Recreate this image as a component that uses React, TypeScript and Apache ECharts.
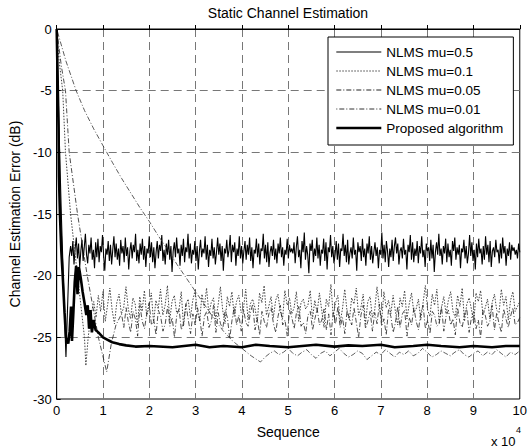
import React, { useEffect, useRef } from "react";
import * as echarts from "echarts";

const FONT = '"Liberation Sans", Arial, Helvetica, sans-serif';

const titleText = "Static Channel Estimation";
const xAxisName = "Sequence";
const yAxisName = "Channel Estimation Error (dB)";
const seriesNames = ["NLMS mu=0.5", "NLMS mu=0.1", "NLMS mu=0.05", "NLMS mu=0.01", "Proposed algorithm"];

// x in units of 10^4
// NLMS mu=0.5 : transient then noisy band
const mu05HeadX = [0, 0.05, 0.1, 0.15, 0.2, 0.24, 0.27];
const mu05HeadY = [0, -8, -15, -21, -26.6, -22, -18.5];
const mu05NoiseStart = 0.3;
const mu05Noise = [
  -17.6, -18.4, -17.2, -19.1, -17.8, -16.9, -18.6, -17.4, -19.3, -18.0, -17.1, -18.8, -17.7, -16.6, -18.3, -19.0, -17.5, -18.2, -16.9, -18.7,
  -17.9, -19.4, -17.3, -18.5, -17.0, -18.9, -17.6, -18.1, -16.7, -18.4, -19.6, -17.8, -18.3, -17.2, -18.8, -17.5, -19.1, -17.9, -16.8, -18.5,
  -17.4, -18.7, -17.8, -19.2, -17.1, -18.2, -17.6, -18.9, -16.9, -18.4, -17.7, -19.5, -18.0, -17.3, -18.6, -17.5, -18.1, -16.6, -18.8, -17.9,
  -19.0, -17.4, -18.3, -17.0, -18.7, -17.6, -19.3, -17.8, -18.2, -16.8, -18.5, -17.3, -18.9, -17.7, -19.4, -18.1, -17.2, -18.6, -17.5, -18.0,
  -16.7, -18.8, -17.9, -19.1, -17.4, -18.3, -17.1, -18.7, -17.6, -19.7, -18.0, -17.3, -18.5, -16.9, -18.2, -17.8, -19.2, -17.5, -18.4, -17.0,
  -18.9, -17.7, -18.1, -16.6, -18.6, -17.4, -19.0, -17.9, -18.3, -17.2, -18.8, -17.6, -19.5, -18.0, -17.1, -18.5, -17.8, -18.2, -16.8, -18.7,
  -17.5, -19.3, -17.9, -18.4, -17.0, -18.6, -17.7, -19.1, -18.1, -16.9, -18.3, -17.4, -18.8, -17.6, -19.6, -17.8, -18.2, -17.1, -18.5, -17.9,
  -16.7, -18.9, -17.5, -18.1, -17.3, -19.2, -17.8, -18.4, -16.8, -18.6, -17.6, -19.0, -18.0, -17.2, -18.7, -17.5, -18.3, -16.9, -18.8, -17.7,
  -19.4, -17.9, -18.2, -17.0, -18.5, -17.4, -19.1, -17.8, -18.0, -16.6, -18.6, -17.5, -18.9, -17.3, -19.3, -18.1, -17.6, -18.4, -17.1, -18.7,
  -17.8, -19.0, -17.4, -18.2, -16.9, -18.5, -17.7, -19.2, -17.9, -18.3, -17.0, -18.6, -17.5, -18.1, -17.8,
  -18.2, -17.3, -19.0, -17.7, -16.8, -18.5, -17.9, -19.4, -17.2, -18.1, -16.5, -18.7, -17.6, -18.3, -19.8, -17.4, -18.0, -17.1, -18.9, -17.8,
  -18.4, -16.9, -18.6, -17.5, -19.2, -17.9, -18.2, -17.0, -18.8, -17.3, -19.5, -17.7, -18.1, -16.7, -18.5, -17.6, -19.0, -18.3, -17.2, -18.7,
  -17.4, -19.3, -17.8, -18.0, -16.6, -18.4, -17.5, -18.9, -17.1, -19.1, -18.2, -17.7, -18.6, -16.9, -18.3, -17.9, -19.6, -17.3, -18.1, -17.6,
  -18.8, -17.0, -18.5, -17.8, -19.2, -17.4, -18.2, -16.8, -18.7, -17.6, -19.0, -18.1, -17.3, -18.4, -17.7, -19.4, -17.9, -18.3, -16.5, -18.6,
  -17.5, -18.9, -17.2, -18.0, -19.3, -17.8, -18.5, -17.1, -18.8, -17.6, -16.9, -18.2, -17.4, -19.1, -18.0, -17.7, -18.6, -17.0, -18.3, -17.9,
  -19.5, -17.5, -18.1, -16.7, -18.7, -17.3, -18.9, -17.8, -18.4, -17.2, -19.0, -17.6, -18.2, -16.8, -18.5, -17.9, -19.3, -17.4, -18.0, -17.7,
  -18.8, -17.1, -18.6, -17.5, -19.7, -18.1, -17.3, -18.3, -16.6, -18.4, -17.8, -19.1, -17.6, -18.2, -17.0, -18.9, -17.4, -18.5, -17.9, -19.2,
  -17.2, -18.0, -16.9, -18.7, -17.7, -18.3, -17.5, -19.4, -17.8, -18.1, -17.1, -18.6, -17.6, -19.0, -18.2, -16.7, -18.4, -17.3, -18.8, -17.9,
  -19.5, -17.4, -18.5, -17.0, -18.2, -17.8, -19.1, -17.6, -18.7, -16.8, -18.3, -17.5, -18.9, -17.2, -19.3, -18.0, -17.7, -18.5, -17.1, -18.1,
  -17.9, -19.0, -17.4, -18.6, -16.9, -18.2, -17.6, -19.2, -17.8, -18.4, -17.3, -18.7, -17.5, -18.0, -17.7, -18.3, -17.9, -18.6, -17.4, -18.1,
];

// NLMS mu=0.1
const mu01HeadX = [0, 0.05, 0.13, 0.19, 0.3, 0.45, 0.6, 0.63, 0.68, 0.74];
const mu01HeadY = [0, -2.5, -5, -10, -15, -20, -25, -27.3, -25, -23.2];
const mu01NoiseStart = 0.8;
const mu01Noise = [
  -22.1, -23.4, -21.6, -22.9, -21.3, -23.7, -22.4, -21.0, -22.8, -23.9, -22.2, -21.5, -23.1, -22.6, -20.9, -22.7, -23.5, -21.8, -22.3, -24.0,
  -21.7, -22.9, -21.2, -23.3, -22.5, -21.4, -23.8, -22.0, -22.7, -21.1, -23.2, -22.4, -20.8, -23.6, -22.1, -21.6, -23.0, -22.8, -21.3, -24.1,
  -22.3, -21.9, -23.4, -22.0, -21.2, -22.9, -23.7, -21.5, -22.6, -21.0, -23.1, -22.2, -21.8, -23.5, -22.4, -20.9, -22.8, -23.9, -21.7, -22.5,
  -21.3, -23.3, -22.1, -21.6, -23.0, -22.7, -21.1, -23.6, -22.3, -21.9, -22.6, -23.8, -21.4, -22.2, -20.8, -23.2, -22.5, -21.7, -23.4, -22.0,
  -21.5, -22.9, -23.5, -21.2, -22.4, -21.8, -23.1, -22.6, -21.3, -23.7, -22.2, -21.9, -22.7,
  -22.4, -21.2, -23.5, -22.0, -23.0, -21.4, -22.8, -24.2, -21.9, -22.5, -20.7, -23.3, -22.2, -21.6, -23.8, -22.7, -21.1, -22.9, -23.6, -21.8,
  -22.3, -21.0, -23.2, -22.6, -21.5, -23.9, -22.1, -21.7, -23.4, -22.8, -20.9, -22.4, -23.7, -21.3, -22.6, -22.0, -23.1, -21.6, -22.9, -24.0,
  -21.8, -22.5, -21.2, -23.5, -22.3, -21.4, -23.0, -22.7, -21.9, -23.6, -22.2, -20.8, -22.8, -23.3, -21.5, -22.4, -21.1, -23.8, -22.6, -21.7,
  -23.1, -22.0, -21.3, -22.9, -23.4, -21.6, -22.5, -21.0, -23.7, -22.3, -21.8, -22.7, -23.9, -21.4, -22.1, -21.2, -23.2, -22.6, -21.9, -23.5,
  -22.2, -21.5, -22.8, -23.0, -21.1, -22.4, -21.7, -23.6, -22.0, -21.3, -22.9, -22.5, -22.1,
];

// NLMS mu=0.05
const mu005HeadX = [0, 0.1, 0.19, 0.27, 0.45, 0.66, 0.9, 1.08, 1.18, 1.28];
const mu005HeadY = [0, -3, -5, -10, -15, -20, -25, -27.8, -25.5, -24];
const mu005NoiseStart = 1.4;
const mu005Noise = [
  -23.1, -24.2, -22.6, -23.8, -24.6, -22.9, -23.5, -24.9, -22.4, -23.7, -24.3, -23.0, -22.2, -24.0, -23.6, -24.8, -22.8, -23.3, -24.5, -23.9,
  -22.5, -24.1, -23.4, -25.0, -23.2, -22.7, -24.4, -23.8, -22.3, -23.6, -24.7, -23.1, -24.0, -22.6, -23.5, -24.9, -23.3, -22.9, -24.2, -23.7,
  -22.4, -24.6, -23.0, -23.9, -24.3, -22.8, -23.4, -25.1, -23.6, -22.5, -24.0, -23.2, -24.5, -22.7, -23.8, -24.1, -23.0, -22.3, -24.4, -23.5,
  -24.8, -22.9, -23.7, -24.2, -23.1, -22.6, -23.9, -24.6, -23.3, -22.4, -24.0, -23.6, -24.9, -22.8, -23.4, -24.3, -23.0, -22.5, -24.1, -23.8,
  -24.7, -23.2, -22.9, -24.4, -23.5, -22.7, -24.0,
  -23.6, -22.7, -24.4, -23.1, -24.8, -22.9, -23.9, -22.5, -24.2, -23.4, -24.7, -22.8, -23.5, -24.0, -22.6, -23.8, -25.0, -23.2, -22.4, -24.3,
  -23.7, -22.9, -24.5, -23.0, -23.9, -22.3, -24.1, -23.5, -24.8, -22.7, -23.3, -24.6, -23.8, -22.5, -24.2, -23.1, -22.8, -24.9, -23.4, -24.0,
  -22.6, -23.7, -24.4, -23.0, -22.4, -24.3, -23.6, -24.7, -22.9, -23.2, -24.1, -23.9, -22.5, -24.5, -23.3, -22.8, -24.0, -23.5, -24.8, -22.6,
  -23.8, -24.2, -23.1, -22.7, -24.6, -23.4, -22.9, -24.3, -23.6, -25.0, -22.8, -23.2, -24.1, -23.7, -22.4, -24.4, -23.0, -23.9, -24.6, -22.7,
  -23.5, -24.2, -23.3, -22.6, -24.0, -23.8, -23.4,
];

// NLMS mu=0.01 : slow convergence
const mu001HeadX = [0, 0.2, 0.42, 0.6, 0.8, 1.08, 1.2, 1.4, 1.6, 1.8, 2.0, 2.2, 2.4, 2.6, 2.8, 3.0, 3.2, 3.4, 3.6, 3.8, 4.0, 4.2, 4.4];
const mu001HeadY = [0, -2.6, -5, -6.6, -8.1, -10, -10.8, -12.1, -13.3, -14.5, -15.6, -16.8, -17.9, -19.1, -20.2, -21.3, -22.4, -23.5, -24.5, -25.3, -25.9, -26.5, -27.0];
const mu001NoiseStart = 4.5;
const mu001Noise = [
  -26.6, -26.3, -26.1, -26.4, -26.2, -25.9, -26.3, -26.5, -26.2, -26.0, -26.4, -26.7, -26.3, -26.1, -26.5, -26.2, -25.9, -26.3, -26.6, -26.4,
  -26.1, -26.3, -26.8, -26.5, -26.2, -26.4, -26.0, -26.3, -26.6, -26.2, -26.4, -26.1, -26.5, -26.3, -25.9, -26.2, -26.6, -26.4, -26.1, -26.3,
  -26.5, -26.2, -26.0, -26.4, -26.6, -26.3, -26.1, -26.5, -26.2, -26.4, -26.0, -26.3, -26.6, -26.2, -26.4, -26.1,
];

// Proposed algorithm
const propX = [
  0, 0.02, 0.04, 0.05, 0.07, 0.1, 0.13, 0.17, 0.2, 0.25, 0.28, 0.31, 0.33, 0.36, 0.39, 0.42, 0.45, 0.48, 0.52, 0.56,
  0.6, 0.64, 0.67, 0.7, 0.73, 0.76, 0.8, 0.84, 0.9, 1.0, 1.1, 1.2, 1.35, 1.5, 1.7, 2.0, 2.5, 3.0, 3.3, 3.6,
  4.0, 4.3, 4.6, 5.0, 5.3, 5.6, 6.0, 6.3, 6.6, 7.0, 7.3, 7.7, 8.0, 8.3, 8.7, 9.0, 9.4, 9.7, 10,
];
const propY = [
  0, -4, -8, -12, -15, -18, -20, -23, -25, -25.5, -24.5, -22.5, -25.3, -23, -20.5, -19.2, -21.5, -19.3, -20.2, -21.3,
  -22.2, -23.2, -22.4, -24.3, -22.8, -24.6, -23.6, -24.4, -24.6, -25, -25.2, -25.4, -25.55, -25.65, -25.75, -25.7, -25.8, -25.6, -25.8, -25.7,
  -25.8, -25.6, -25.7, -25.8, -25.7, -25.6, -25.75, -25.65, -25.7, -25.6, -25.8, -25.7, -25.6, -25.7, -25.8, -25.7, -25.8, -25.7, -25.7,
];

const xMax = 10;

const pairs = (xs: number[], ys: number[]) => xs.map((x, i) => [x, ys[i]]);
const spread = (x0: number, x1: number, ys: number[]) =>
  ys.map((y, i) => [x0 + ((x1 - x0) * i) / (ys.length - 1), y]);

const styles = [
  { color: "#000", width: 1.1, type: "solid" as any },
  { color: "#444", width: 1, type: [1.5, 1.5] as any },
  { color: "#222", width: 0.8, type: [5, 2, 1, 2] as any },
  { color: "#333", width: 0.8, type: [1, 2, 5, 2] as any },
  { color: "#000", width: 2.6, type: "solid" as any },
];

export default function App() {
  const ref = useRef<HTMLDivElement>(null);
  useEffect(() => {
    document.body.style.margin = "0";
    if (!ref.current) return;
    const chart = echarts.init(ref.current, undefined, { renderer: "svg" });

    const mu05 = [...pairs(mu05HeadX, mu05HeadY), ...spread(mu05NoiseStart, xMax, mu05Noise)];
    const mu01 = [...pairs(mu01HeadX, mu01HeadY), ...spread(mu01NoiseStart, xMax, mu01Noise)];
    const mu005 = [...pairs(mu005HeadX, mu005HeadY), ...spread(mu005NoiseStart, xMax, mu005Noise)];
    const mu001 = [...pairs(mu001HeadX, mu001HeadY), ...spread(mu001NoiseStart, xMax, mu001Noise)];
    const prop = pairs(propX, propY);
    const datas = [mu05, mu01, mu005, mu001, prop];

    const series = seriesNames.map((name, i) => ({
      name,
      type: "line",
      data: datas[i],
      symbol: "none",
      showSymbol: false,
      silent: true,
      z: i === 4 ? 4 : i === 0 ? 2 : 3,
      lineStyle: { ...styles[i] },
      itemStyle: { color: styles[i].color },
    }));

    chart.setOption({
      animation: false,
      backgroundColor: "#fff",
      textStyle: { fontFamily: FONT },
      grid: {
        left: 54,
        right: 7,
        top: 29,
        bottom: 49,
        show: true,
        borderColor: "#000",
        borderWidth: 1,
        backgroundColor: "transparent",
      },
      xAxis: {
        type: "value",
        min: 0,
        max: 10,
        interval: 1,
        name: xAxisName,
        nameLocation: "middle",
        nameGap: 26,
        nameTextStyle: { fontSize: 14, color: "#000", fontFamily: FONT },
        axisLine: { show: true, lineStyle: { color: "#000", width: 1 } },
        axisTick: { show: true, inside: true, length: 4, lineStyle: { color: "#000" } },
        axisLabel: { color: "#000", fontSize: 13, margin: 5, fontFamily: FONT },
        splitLine: {
          show: true,
          showMinLine: false,
          showMaxLine: false,
          lineStyle: { color: "#777", width: 1, type: [8, 5] },
        },
      },
      yAxis: {
        type: "value",
        min: -30,
        max: 0,
        interval: 5,
        name: yAxisName,
        nameLocation: "middle",
        nameGap: 31,
        nameRotate: 90,
        nameTextStyle: { fontSize: 14, color: "#000", fontFamily: FONT },
        axisLine: { show: true, lineStyle: { color: "#000", width: 1 } },
        axisTick: { show: true, inside: true, length: 4, lineStyle: { color: "#000" } },
        axisLabel: { color: "#000", fontSize: 13, margin: 5, fontFamily: FONT },
        splitLine: {
          show: true,
          showMinLine: false,
          showMaxLine: false,
          lineStyle: { color: "#777", width: 1, type: [8, 5] },
        },
      },
      legend: {
        orient: "vertical",
        left: 328,
        top: 37,
        padding: [8, 10, 10, 7],
        itemWidth: 45,
        itemHeight: 14,
        itemGap: 5,
        backgroundColor: "#fff",
        borderColor: "#000",
        borderWidth: 1,
        borderRadius: 0,
        selectedMode: false,
        textStyle: { fontSize: 13.5, color: "#000", fontFamily: FONT, lineHeight: 14 },
        data: seriesNames.map((name, i) => ({
          name,
          itemStyle: { opacity: 0, borderWidth: 0 },
          lineStyle: { ...styles[i], width: Math.max(styles[i].width, 1), opacity: 1 },
        })),
      },
      graphic: [
        {
          type: "text",
          x: 288,
          y: 13,
          style: { text: titleText, align: "center", verticalAlign: "middle", font: `14px ${FONT}`, fill: "#000" },
        },
        {
          type: "text",
          x: 491,
          y: 441,
          style: { text: "x 10", align: "left", verticalAlign: "middle", font: `13px ${FONT}`, fill: "#000" },
        },
        {
          type: "text",
          x: 516,
          y: 430,
          style: { text: "4", align: "left", verticalAlign: "middle", font: `9px ${FONT}`, fill: "#000" },
        },
      ],
      series,
    });
    return () => chart.dispose();
  }, []);
  return <div ref={ref} style={{ width: 530, height: 448 }} />;
}
